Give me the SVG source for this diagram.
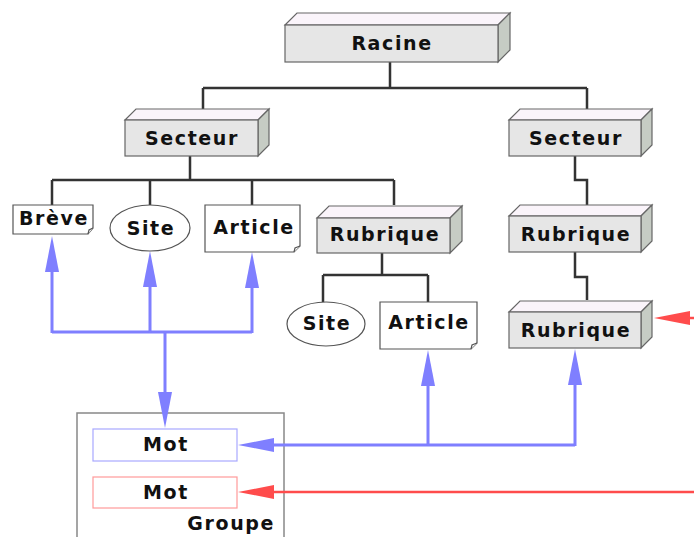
<svg xmlns="http://www.w3.org/2000/svg" width="694" height="537" viewBox="0 0 694 537">
<style>
text{font-family:"DejaVu Sans","Liberation Sans",sans-serif;font-weight:bold;font-size:19px;letter-spacing:1.6px;fill:#111;text-anchor:middle}
.front{fill:#e6e6e6;stroke:#666;stroke-width:1.2}
.top{fill:#faf4fa;stroke:#666;stroke-width:1.2}
.side{fill:#c6ccc4;stroke:#666;stroke-width:1.2}
.doc{fill:#fff;stroke:#555;stroke-width:1.2}
.tree{fill:none;stroke:#333;stroke-width:2.5}
.blue{fill:none;stroke:#7f7fff;stroke-width:3}
.red{fill:none;stroke:#ff4c4c;stroke-width:2.5}
</style>
<defs>
<marker id="ab" markerUnits="userSpaceOnUse" markerWidth="37" markerHeight="16" viewBox="0 -8 37 16" refX="0" refY="0" orient="auto"><path d="M0,-7 L36,0 L0,7 Z" fill="#7f7fff"/></marker>
<marker id="ar" markerUnits="userSpaceOnUse" markerWidth="37" markerHeight="16" viewBox="0 -8 37 16" refX="0" refY="0" orient="auto"><path d="M0,-7 L36,0 L0,7 Z" fill="#ff4c4c"/></marker>
</defs>
<g id="groupe">
<rect x="77" y="413" width="207" height="140" fill="none" stroke="#888" stroke-width="1.5"/>
<text x="275" y="530" style="text-anchor:end">Groupe</text>
</g>
<g id="mot1">
<rect x="93" y="429" width="144" height="32" fill="#fff" stroke="#a8a8ff" stroke-width="1.2"/>
<text x="166" y="451">Mot</text>
</g>
<g id="mot2">
<rect x="93" y="477" width="144" height="31" fill="#fff" stroke="#ff9a9a" stroke-width="1.2"/>
<text x="166" y="499">Mot</text>
</g>
<g id="connectors">
<path class="tree" d="M390,62 V88 M203,88 H587 M203,88 V109 M587,88 V109"/>
<path class="tree" d="M190,156 V180 M52,180 H394 M52,180 V205 M150,180 V205 M252,180 V205 M394,180 V205"/>
<path class="tree" d="M382,253 V275 M323,275 H428 M323,275 V302 M428,275 V302"/>
<path class="tree" d="M575,156 V180 H587 V205"/>
<path class="tree" d="M575,252 V277 H587 V300"/>
<path class="blue" d="M52,332 H252"/>
<path class="blue" d="M52,333 V272" marker-end="url(#ab)"/>
<path class="blue" d="M150,333 V287" marker-end="url(#ab)"/>
<path class="blue" d="M252,333 V288" marker-end="url(#ab)"/>
<path class="blue" d="M165,332 V392" marker-end="url(#ab)"/>
<path class="blue" d="M575,445 H274" marker-end="url(#ab)"/>
<path class="blue" d="M428,446 V386" marker-end="url(#ab)"/>
<path class="blue" d="M575,446 V385" marker-end="url(#ab)"/>
<path class="red" d="M700,492 H274" marker-end="url(#ar)"/>
<path class="red" d="M700,318 H690" marker-end="url(#ar)"/>
</g>
<g id="racine">
<path class="top" d="M285,25 L297,13 H510 L498,25 Z"/>
<path class="side" d="M498,25 L510,13 V50 L498,62 Z"/>
<rect class="front" x="285" y="25" width="213" height="37"/>
<text x="392" y="50">Racine</text>
</g>
<g id="secteur1">
<path class="top" d="M125,120 L136,109 H269 L258,120 Z"/>
<path class="side" d="M258,120 L269,109 V145 L258,156 Z"/>
<rect class="front" x="125" y="120" width="133" height="36"/>
<text x="192" y="145">Secteur</text>
</g>
<g id="secteur2">
<path class="top" d="M509,120 L520,109 H652 L641,120 Z"/>
<path class="side" d="M641,120 L652,109 V145 L641,156 Z"/>
<rect class="front" x="509" y="120" width="132" height="36"/>
<text x="576" y="145">Secteur</text>
</g>
<g id="breve">
<path class="doc" d="M13,205 H93 V228 L88,234 H13 Z"/>
<path class="doc" d="M88,234 L89,230 L93,228"/>
<text x="54" y="225">Brève</text>
</g>
<g id="site1">
<ellipse class="doc" cx="150" cy="228" rx="40" ry="23"/>
<text x="151" y="235">Site</text>
</g>
<g id="article1">
<path class="doc" d="M205,205 H300 V246 L294,252 H205 Z"/>
<path class="doc" d="M294,252 L295,248 L300,246"/>
<text x="254" y="234">Article</text>
</g>
<g id="rubrique1">
<path class="top" d="M317,218 L329,206 H462 L450,218 Z"/>
<path class="side" d="M450,218 L462,206 V241 L450,253 Z"/>
<rect class="front" x="317" y="218" width="133" height="35"/>
<text x="385" y="241">Rubrique</text>
</g>
<g id="site2">
<ellipse class="doc" cx="326" cy="324" rx="39" ry="22"/>
<text x="327" y="330">Site</text>
</g>
<g id="article2">
<path class="doc" d="M380,302 H477 V343 L471,349 H380 Z"/>
<path class="doc" d="M471,349 L472,345 L477,343"/>
<text x="429" y="329">Article</text>
</g>
<g id="rubrique2">
<path class="top" d="M509,216 L520,205 H652 L641,216 Z"/>
<path class="side" d="M641,216 L652,205 V241 L641,252 Z"/>
<rect class="front" x="509" y="216" width="132" height="36"/>
<text x="576" y="241">Rubrique</text>
</g>
<g id="rubrique3">
<path class="top" d="M509,312 L520,301 H652 L641,312 Z"/>
<path class="side" d="M641,312 L652,301 V337 L641,348 Z"/>
<rect class="front" x="509" y="312" width="132" height="36"/>
<text x="576" y="337">Rubrique</text>
</g>
</svg>
